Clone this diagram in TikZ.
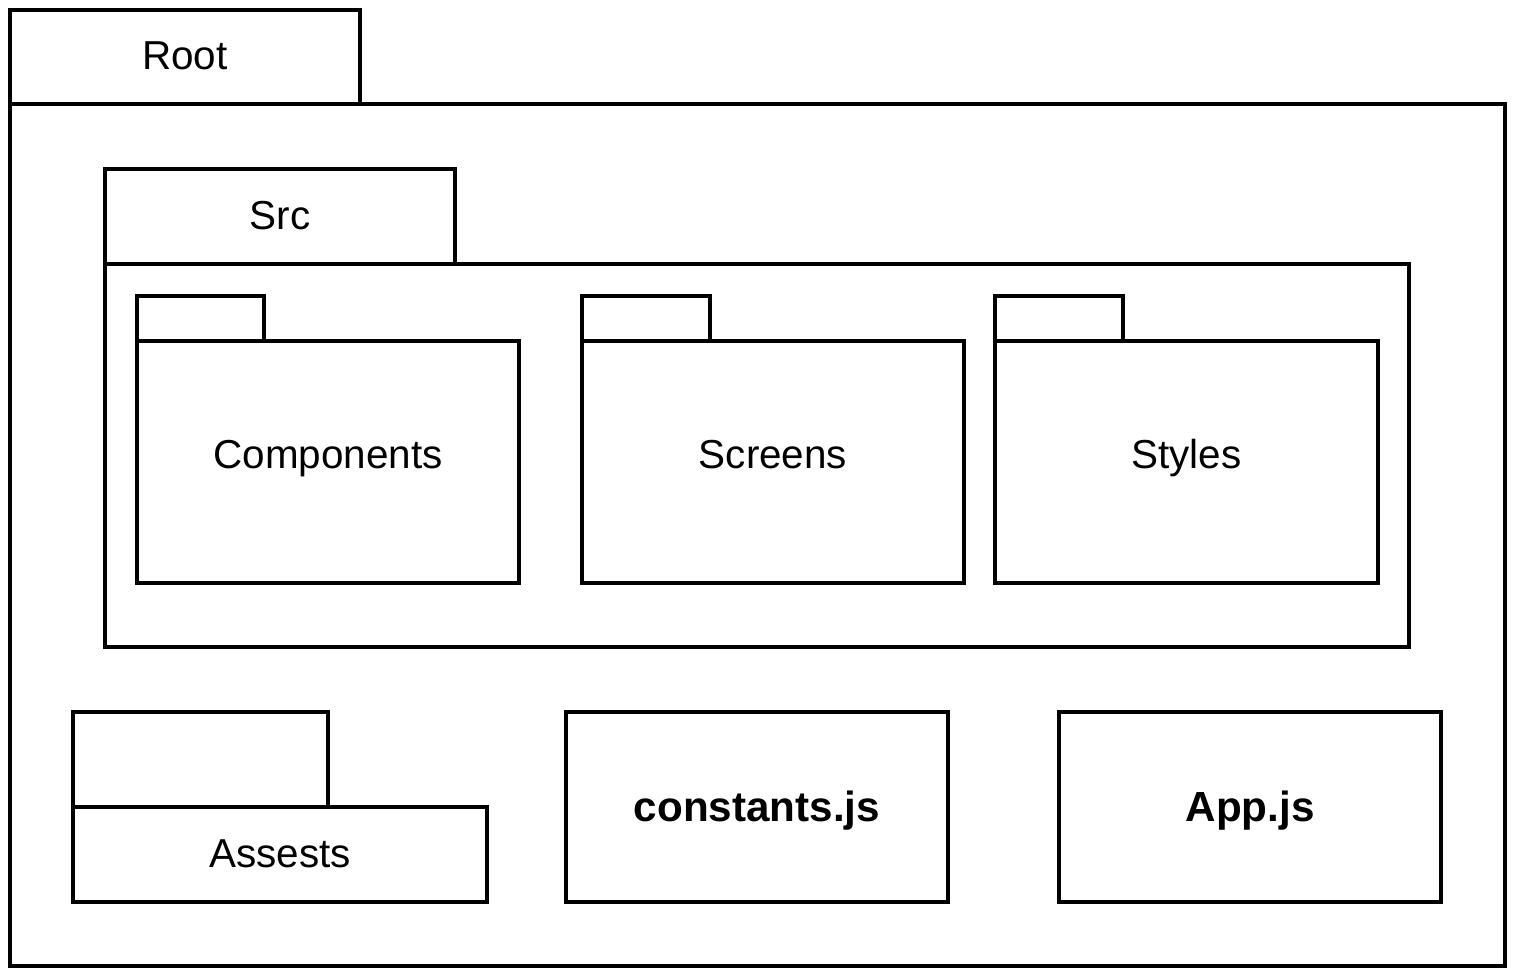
\documentclass[tikz,border=0pt]{standalone}
\usepackage{fontspec}
\setmainfont{Liberation Sans}
\usepackage{tikz}
\usetikzlibrary{fit}
\tikzset{pkg/.style={rectangle, draw, line width=0.9pt, inner sep=0pt}}
\tikzset{every label/.style={font=\fontsize{11.5}{13}\selectfont, inner sep=0pt,
   text height=0.72em, text depth=0pt}}
\tikzset{up/.style={yshift=0.065cm}}
\tikzset{bold/.style={font=\fontsize{12}{14}\selectfont\bfseries, yshift=-0.02cm}}

\begin{document}
\begin{tikzpicture}

    \useasboundingbox (0,0) rectangle (15.20,-9.77);

    \node[pkg, fit={(0.10,-0.10) (3.60,-1.04)}, label=center:Root] (roottab) {};
    \node[pkg, fit={(0.10,-1.04) (15.05,-9.66)}] (root) {};

    \node[pkg, fit={(1.05,-1.69) (4.55,-2.64)}, label=center:Src] (srctab) {};
    \node[pkg, fit={(1.05,-2.64) (14.09,-6.47)}] (src) {};

    \node[pkg, fit={(1.37,-2.96) (2.64,-3.41)}] (comptab) {};
    \node[pkg, fit={(1.37,-3.41) (5.19,-5.83)}, label={[up]center:Components}] (comp) {};

    \node[pkg, fit={(5.82,-2.96) (7.10,-3.41)}] (scrtab) {};
    \node[pkg, fit={(5.82,-3.41) (9.64,-5.83)}, label={[up]center:Screens}] (scr) {};

    \node[pkg, fit={(9.95,-2.96) (11.23,-3.41)}] (stytab) {};
    \node[pkg, fit={(9.95,-3.41) (13.78,-5.83)}, label={[up]center:Styles}] (sty) {};

    \node[pkg, fit={(0.73,-7.12) (3.28,-8.07)}] (asstab) {};
    \node[pkg, fit={(0.73,-8.07) (4.87,-9.02)}, label=center:Assests] (ass) {};

    \node[pkg, fit={(5.66,-7.12) (9.48,-9.02)}, label={[bold]center:constants.js}] (const) {};
    \node[pkg, fit={(10.59,-7.12) (14.41,-9.02)}, label={[bold]center:App.js}] (app) {};

  \end{tikzpicture}
\end{document}
